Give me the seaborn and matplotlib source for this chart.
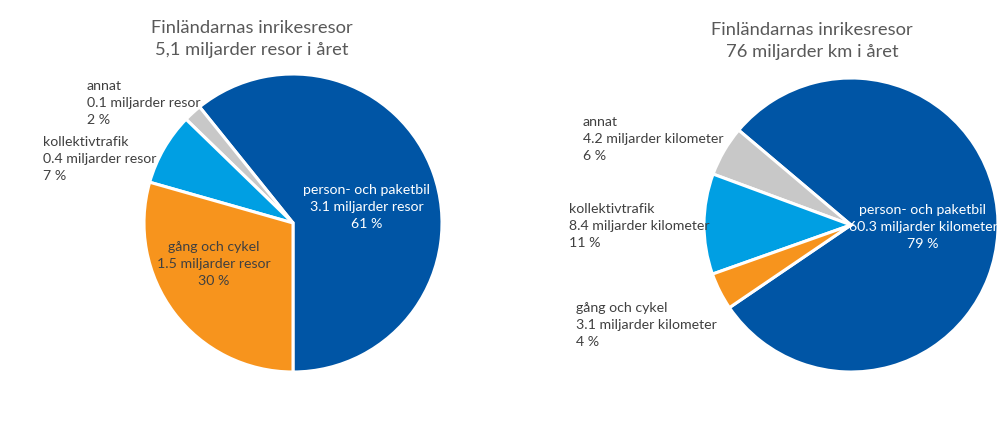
import numpy as np
import matplotlib
matplotlib.use("Agg")
import matplotlib.pyplot as plt
import seaborn as sns

# data (billions), counter-clockwise order starting from the car slice
categories = ["person- och paketbil", "annat", "kollektivtrafik", "gång och cykel"]
trips_bn = [3.1, 0.1, 0.4, 1.5]
trips_pct = [61, 2, 7, 30]
km_bn = [60.3, 4.2, 8.4, 3.1]
km_pct = [79, 6, 11, 4]

title_trips = "Finländarnas inrikesresor\n5,1 miljarder resor i året"
title_km = "Finländarnas inrikesresor\n76 miljarder km i året"

colors = ["#0055A5", "#C8C8C8", "#009FE3", "#F7941D"]
TEXT = "#404040"
W, H = 1004, 446

sns.set_theme(style="white")
plt.rcParams["font.family"] = ["Lato", "DejaVu Sans"]

fig = plt.figure(figsize=(W / 100, H / 100), dpi=100)


def px_axes(cx, cy, r):
    ax = fig.add_axes([(cx - r) / W, (H - cy - r) / H, 2 * r / W, 2 * r / H])
    ax.axis("off")
    return ax


def px_text(x, y, s, ha="left", color=TEXT, size=10.2, ls=1.5):
    fig.text(x / W, 1 - y / H, s, ha=ha, va="center", color=color,
             fontsize=size, linespacing=ls)


def draw_pie(ax, values, start):
    ax.pie(values, colors=colors, startangle=start, counterclock=True,
           radius=1.0, wedgeprops=dict(edgecolor="white", linewidth=2.2))
    # pie() resets the limits, so fix them afterwards
    ax.set_xlim(-1, 1)
    ax.set_ylim(-1, 1)
    ax.set_aspect("equal")


def label(name, val, unit, pct):
    return f"{name}\n{val} miljarder {unit}\n{pct} %"


# left pie: trips
ax1 = px_axes(293, 223, 149)
draw_pie(ax1, trips_bn, -90)
px_text(252, 39, title_trips, ha="center", color="#595959", size=13.2, ls=1.45)
px_text(87, 103, label(categories[1], trips_bn[1], "resor", trips_pct[1]))
px_text(43, 159, label(categories[2], trips_bn[2], "resor", trips_pct[2]))
px_text(214, 264, label(categories[3], trips_bn[3], "resor", trips_pct[3]), ha="center")
px_text(367, 207, label(categories[0], trips_bn[0], "resor", trips_pct[0]), ha="center", color="white")

# right pie: kilometres
ax2 = px_axes(851, 225, 147)
draw_pie(ax2, km_bn, 214.2)
px_text(812, 41, title_km, ha="center", color="#595959", size=13.2, ls=1.45)
px_text(583, 139, label(categories[1], km_bn[1], "kilometer", km_pct[1]))
px_text(569, 226, label(categories[2], km_bn[2], "kilometer", km_pct[2]))
px_text(576, 325, label(categories[3], km_bn[3], "kilometer", km_pct[3]))
px_text(923, 227, label(categories[0], km_bn[0], "kilometer", km_pct[0]), ha="center", color="white")

fig.savefig("out.png", dpi=100, facecolor="white")
